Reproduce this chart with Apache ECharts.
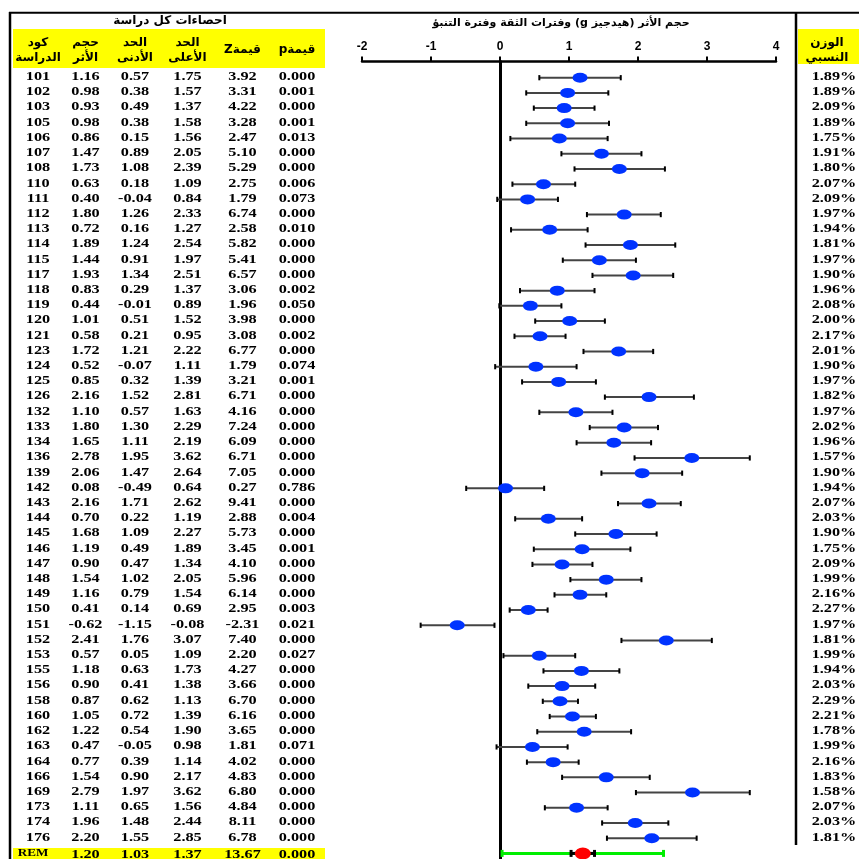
<!DOCTYPE html>
<html><head><meta charset="utf-8">
<script src="https://cdn.jsdelivr.net/npm/echarts@6/dist/echarts.min.js"></script>
<style>html,body{margin:0;padding:0;background:#fff}#c{width:859px;height:859px}</style>
</head><body><div id="c"></div>
<script>
// ---------------- data ----------------
const studyIds = ['101','102','103','105','106','107','108','110','111','112','113','114','115','117','118','119','120','121','123','124','125','126','132','133','134','136','139','142','143','144','145','146','147','148','149','150','151','152','153','155','156','158','160','162','163','164','166','169','173','174','176'];
const effect = [1.16,0.98,0.93,0.98,0.86,1.47,1.73,0.63,0.40,1.80,0.72,1.89,1.44,1.93,0.83,0.44,1.01,0.58,1.72,0.52,0.85,2.16,1.10,1.80,1.65,2.78,2.06,0.08,2.16,0.70,1.68,1.19,0.90,1.54,1.16,0.41,-0.62,2.41,0.57,1.18,0.90,0.87,1.05,1.22,0.47,0.77,1.54,2.79,1.11,1.96,2.20];
const lower = [0.57,0.38,0.49,0.38,0.15,0.89,1.08,0.18,-0.04,1.26,0.16,1.24,0.91,1.34,0.29,-0.01,0.51,0.21,1.21,-0.07,0.32,1.52,0.57,1.30,1.11,1.95,1.47,-0.49,1.71,0.22,1.09,0.49,0.47,1.02,0.79,0.14,-1.15,1.76,0.05,0.63,0.41,0.62,0.72,0.54,-0.05,0.39,0.90,1.97,0.65,1.48,1.55];
const upper = [1.75,1.57,1.37,1.58,1.56,2.05,2.39,1.09,0.84,2.33,1.27,2.54,1.97,2.51,1.37,0.89,1.52,0.95,2.22,1.11,1.39,2.81,1.63,2.29,2.19,3.62,2.64,0.64,2.62,1.19,2.27,1.89,1.34,2.05,1.54,0.69,-0.08,3.07,1.09,1.73,1.38,1.13,1.39,1.90,0.98,1.14,2.17,3.62,1.56,2.44,2.85];
const zValues = [3.92,3.31,4.22,3.28,2.47,5.10,5.29,2.75,1.79,6.74,2.58,5.82,5.41,6.57,3.06,1.96,3.98,3.08,6.77,1.79,3.21,6.71,4.16,7.24,6.09,6.71,7.05,0.27,9.41,2.88,5.73,3.45,4.10,5.96,6.14,2.95,-2.31,7.40,2.20,4.27,3.66,6.70,6.16,3.65,1.81,4.02,4.83,6.80,4.84,8.11,6.78];
const pValues = [0.000,0.001,0.000,0.001,0.013,0.000,0.000,0.006,0.073,0.000,0.010,0.000,0.000,0.000,0.002,0.050,0.000,0.002,0.000,0.074,0.001,0.000,0.000,0.000,0.000,0.000,0.000,0.786,0.000,0.004,0.000,0.001,0.000,0.000,0.000,0.003,0.021,0.000,0.027,0.000,0.000,0.000,0.000,0.000,0.071,0.000,0.000,0.000,0.000,0.000,0.000];
const weights = [1.89,1.89,2.09,1.89,1.75,1.91,1.80,2.07,2.09,1.97,1.94,1.81,1.97,1.90,1.96,2.08,2.00,2.17,2.01,1.90,1.97,1.82,1.97,2.02,1.96,1.57,1.90,1.94,2.07,2.03,1.90,1.75,2.09,1.99,2.16,2.27,1.97,1.81,1.99,1.94,2.03,2.29,2.21,1.78,1.99,2.16,1.83,1.58,2.07,2.03,1.81];
const remLabel = 'REM';
const remValues = {effect:1.20, lower:1.03, upper:1.37, z:13.67, p:0.000};
const predInterval = [0.03, 2.37];
const xTicks = [-2,-1,0,1,2,3,4];

const tableTitle = 'احصاءات كل دراسة';
const plotTitle = 'حجم الأثر (هيدجيز g) وفترات الثقة وفترة التنبؤ';
const colHeaders = [['كود','الدراسة'],['حجم','الأثر'],['الحد','الأدنى'],['الحد','الأعلى'],['قيمةZ'],['قيمةp']];
const weightHeader = ['الوزن','النسبي'];

// ---------------- layout ----------------
const W = 859, H = 859;
const GRID = {left:362, right:83, top:61.5, bottom:0};
const ROW0_Y = 77.7, ROW_H = 15.21;
const yMin = -(ROW0_Y - GRID.top) / ROW_H;
const yMax = yMin + (H - GRID.top - GRID.bottom) / ROW_H;
const COL_X = [38, 85.5, 135, 187.5, 242.5, 297];
const WEIGHT_X = 834;
const N = studyIds.length;
const REM_ROW = N;
const SERIF = 'Liberation Serif';
const ARAB = 'DejaVu Sans';
const TXT_SX = 1.25;
const RTL = s => '\u202B' + s + '\u202C';

function f2(v){ return v.toFixed(2); }
function cellText(x, y, text, opt){
  opt = opt || {};
  return {type:'text', x:x, y:y, scaleX: opt.sx || TXT_SX, silent:true,
    style:{text:text, fill:'#000', fontSize: opt.fs || 13, fontWeight:'bold', fontFamily: opt.ff || SERIF,
      align:'center', verticalAlign:'middle'}};
}
function headText(x, y, text){
  return {type:'text', x:x, y:y, style:{text:text, fill:'#000', fontSize:12, lineHeight:15, fontWeight:'bold', fontFamily:ARAB, align:'center', verticalAlign:'middle'}};
}

const rows = studyIds.map((id,i)=>[0,i]);

const option = {
  animation:false,
  backgroundColor:'#fff',
  grid:{left:GRID.left, right:GRID.right, top:GRID.top, bottom:GRID.bottom, containLabel:false},
  xAxis:{type:'value', position:'top', min:xTicks[0], max:xTicks[xTicks.length-1], interval:1,
    axisLine:{show:true, onZero:false, lineStyle:{color:'#000', width:2.5}},
    axisTick:{show:true, length:5, lineStyle:{color:'#000', width:2}},
    axisLabel:{show:true, margin:9, color:'#000', fontSize:12, fontWeight:'bold', fontFamily:'Liberation Sans'},
    splitLine:{show:false}},
  yAxis:{type:'value', inverse:true, min:yMin, max:yMax,
    axisLine:{show:true, onZero:true, lineStyle:{color:'#000', width:3}},
    axisTick:{show:false}, axisLabel:{show:false}, splitLine:{show:false}},
  graphic:[
    {type:'rect', shape:{x:13, y:29, width:312, height:39}, style:{fill:'#ffff00'}, z:0},
    {type:'rect', shape:{x:798, y:29, width:61, height:35}, style:{fill:'#ffff00'}, z:0},
    {type:'line', shape:{x1:9, y1:12.7, x2:W, y2:12.7}, style:{stroke:'#000', lineWidth:2}},
    {type:'line', shape:{x1:10, y1:12, x2:10, y2:H}, style:{stroke:'#000', lineWidth:2.5}},
    {type:'line', shape:{x1:796, y1:12, x2:796, y2:845}, style:{stroke:'#000', lineWidth:2.5}},
    headText(170, 21, tableTitle),
    {type:'text', x:561, y:23, style:{text:RTL(plotTitle), fill:'#000', fontSize:11, fontWeight:'bold', fontFamily:ARAB, align:'center', verticalAlign:'middle'}}
  ].concat(colHeaders.map((h,c)=>headText(COL_X[c], 50, h.map(RTL).join('\n'))))
   .concat([headText(827, 50, weightHeader.map(RTL).join('\n'))]),
  series:[
    {type:'custom', silent:true, data:rows, z:5,
      renderItem:function(params, api){
        const i = params.dataIndex;
        const y = api.coord([0, i])[1] - 1;
        const vals = [studyIds[i], f2(effect[i]), f2(lower[i]), f2(upper[i]), f2(zValues[i]), pValues[i].toFixed(3)];
        const children = vals.map((t,c)=>cellText(COL_X[c], y, t));
        children.push(cellText(WEIGHT_X, y, weights[i].toFixed(2)+'%'));
        return {type:'group', children:children};
      }},
    {type:'custom', silent:true, data:[[0, REM_ROW]], z:5,
      renderItem:function(params, api){
        const y = api.coord([0, REM_ROW])[1];
        const vals = [f2(remValues.effect), f2(remValues.lower), f2(remValues.upper), f2(remValues.z), remValues.p.toFixed(3)];
        const children = [{type:'rect', shape:{x:13, y:y-5.5, width:312, height:16}, style:{fill:'#ffff00'}, z2:-1}];
        children.push(cellText(33, y-0.5, remLabel, {fs:10.5}));
        vals.forEach((t,c)=>children.push(cellText(COL_X[c+1], y+1.5, t)));
        return {type:'group', children:children};
      }},
    {type:'custom', silent:true, z:3,
      data: studyIds.map((id,i)=>[lower[i], upper[i], i]),
      encode:{x:[0,1], y:2},
      renderItem:function(params, api){
        const a = api.coord([api.value(0), api.value(2)]);
        const b = api.coord([api.value(1), api.value(2)]);
        const ch = 2.6;
        return {type:'group', children:[
          {type:'line', shape:{x1:a[0], y1:a[1], x2:b[0], y2:b[1]}, style:{stroke:'#444', lineWidth:2}},
          {type:'line', shape:{x1:a[0], y1:a[1]-ch, x2:a[0], y2:a[1]+ch}, style:{stroke:'#000', lineWidth:2}},
          {type:'line', shape:{x1:b[0], y1:b[1]-ch, x2:b[0], y2:b[1]+ch}, style:{stroke:'#000', lineWidth:2}}
        ]};
      }},
    {type:'custom', silent:true, z:3,
      data:[[predInterval[0], predInterval[1], remValues.lower, remValues.upper, REM_ROW]],
      encode:{x:[0,1,2,3], y:4},
      renderItem:function(params, api){
        const r = api.value(4);
        const p1 = api.coord([api.value(0), r]), p2 = api.coord([api.value(1), r]);
        const c1 = api.coord([api.value(2), r]), c2 = api.coord([api.value(3), r]);
        const g = '#00ee00';
        return {type:'group', children:[
          {type:'line', shape:{x1:p1[0], y1:p1[1], x2:p2[0], y2:p2[1]}, style:{stroke:g, lineWidth:3}},
          {type:'line', shape:{x1:p1[0], y1:p1[1]-3.5, x2:p1[0], y2:p1[1]+3.5}, style:{stroke:g, lineWidth:3}},
          {type:'line', shape:{x1:p2[0], y1:p2[1]-3.5, x2:p2[0], y2:p2[1]+3.5}, style:{stroke:g, lineWidth:3}},
          {type:'line', shape:{x1:c1[0], y1:c1[1], x2:c2[0], y2:c2[1]}, style:{stroke:'#000', lineWidth:3}},
          {type:'line', shape:{x1:c1[0], y1:c1[1]-3.5, x2:c1[0], y2:c1[1]+3.5}, style:{stroke:'#000', lineWidth:3}},
          {type:'line', shape:{x1:c2[0], y1:c2[1]-3.5, x2:c2[0], y2:c2[1]+3.5}, style:{stroke:'#000', lineWidth:3}}
        ]};
      }},
    {type:'scatter', silent:true, z:4, symbol:'circle', symbolSize:[15,10],
      itemStyle:{color:'#0033ff', opacity:1},
      data: effect.map((v,i)=>[v, i])},
    {type:'scatter', silent:true, z:4, symbol:'circle', symbolSize:[16,12],
      itemStyle:{color:'#ff0000', opacity:1},
      data:[[remValues.effect, REM_ROW]]}
  ]
};
echarts.init(document.getElementById('c'), null, {renderer:'canvas'}).setOption(option);
</script></body></html>
